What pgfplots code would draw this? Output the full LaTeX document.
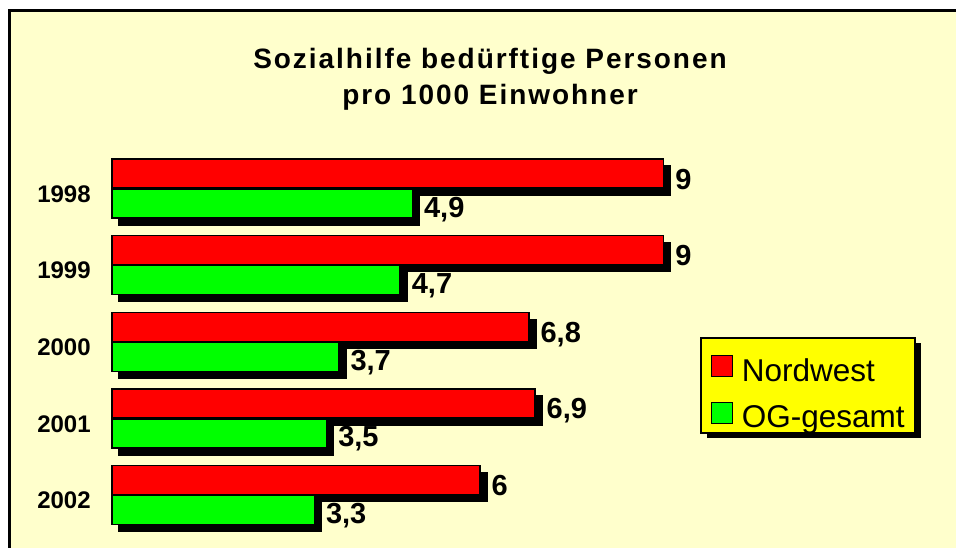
\documentclass[border=0pt]{standalone}
\usepackage{pgfplots}
\pgfplotsset{compat=1.18}
\usetikzlibrary{shadows}
\usepackage{fontspec}
\setmainfont{Liberation Sans}
\newfontfamily\titlefont[LetterSpace=7]{Liberation Sans}
\definecolor{bgyellow}{RGB}{255,255,204}
\definecolor{barred}{RGB}{255,0,0}
\definecolor{bargreen}{RGB}{0,255,0}
\definecolor{legyellow}{RGB}{255,255,0}

\begin{document}
\begin{tikzpicture}[x=1pt,y=1pt]
\useasboundingbox (0,0) rectangle (956,547);
\begin{scope}
\clip (0,0) rectangle (956,547);
\fill[white] (0,0) rectangle (956,547);
\fill[bgyellow] (9.5,-20) rectangle (980,536.5);
\draw[line width=3pt] (9.5,-20) -- (9.5,536.5) -- (980,536.5);
\end{scope}
\node[anchor=base, inner sep=0pt, font=\titlefont\bfseries\fontsize{28}{34}\selectfont] at (490,478.7) {Sozialhilfe bedürftige Personen};
\node[anchor=base, inner sep=0pt, font=\titlefont\bfseries\fontsize{28}{34}\selectfont] at (490,442.7) {pro 1000 Einwohner};

\begin{axis}[
  at={(112pt,13.7pt)}, anchor=south west,
  scale only axis, width=735.6pt, height=383pt,
  xmin=0, xmax=12, ymin=-0.5, ymax=4.5,
  xbar, bar width=29pt, clip=false,
  axis line style={draw=none},
  xtick=\empty,
  ytick={0,1,2,3,4},
  yticklabels={2002,2001,2000,1999,1998},
  major tick length=0pt,
  yticklabel style={font=\bfseries\fontsize{24}{28}\selectfont, anchor=center, xshift=-48pt, yshift=-5pt, text height=17.3pt, text depth=0pt, inner sep=0pt},
  point meta=x,
  mylegend/.style={legend image code/.code={%
    \pgfsetlinewidth{1.5pt}\pgfsetfillcolor{#1}\pgfsetstrokecolor{black}%
    \pgfpathrectangle{\pgfpoint{0pt}{4.3pt}}{\pgfpoint{21pt}{21pt}}\pgfusepath{fill,stroke}%
    \pgfpathmoveto{\pgfpoint{0pt}{37.7pt}}\pgfusepath{discard}}},
  valstyle/.style={nodes near coords={\pgfmathprintnumber[use comma,assume math mode=true]{\pgfplotspointmeta}},
    every node near coord/.append style={anchor=west, inner sep=0pt, xshift=11pt, yshift=#1, font=\bfseries\fontsize{29}{30}\selectfont, text height=20.8pt, text depth=0pt, text=black}},
  legend style={at={(0.7993,0.5117)}, anchor=north west, fill=legyellow, draw=black, line width=2pt,
    inner xsep=10pt, inner ysep=5pt, row sep=9pt, column sep=8.3pt,
    cells={anchor=base west},
    nodes={inner sep=0pt, text height=23.3pt, text depth=0pt, font=\fontsize{31.5}{36}\selectfont},
    drop shadow={shadow xshift=6pt, shadow yshift=-5pt, fill=black, opacity=1}},
]
% shadows
\addplot[forget plot, fill=black, draw=black, line width=1.5pt, bar shift=15pt, xshift=7pt, yshift=-7pt]
  coordinates {(9,4) (9,3) (6.8,2) (6.9,1) (6,0)};
\addplot[forget plot, fill=black, draw=black, line width=1.5pt, bar shift=-15pt, xshift=7pt, yshift=-7pt]
  coordinates {(4.9,4) (4.7,3) (3.7,2) (3.5,1) (3.3,0)};
% bars
\addplot[fill=barred, draw=black, line width=1.5pt, bar shift=15pt, mylegend=barred, valstyle=-5pt]
  coordinates {(9,4) (9,3) (6.8,2) (6.9,1) (6,0)};
\addlegendentry{Nordwest}
\addplot[fill=bargreen, draw=black, line width=1.5pt, bar shift=-15pt, mylegend=bargreen, valstyle=-3pt]
  coordinates {(4.9,4) (4.7,3) (3.7,2) (3.5,1) (3.3,0)};
\addlegendentry{OG-gesamt}
\end{axis}
\end{tikzpicture}
\end{document}
